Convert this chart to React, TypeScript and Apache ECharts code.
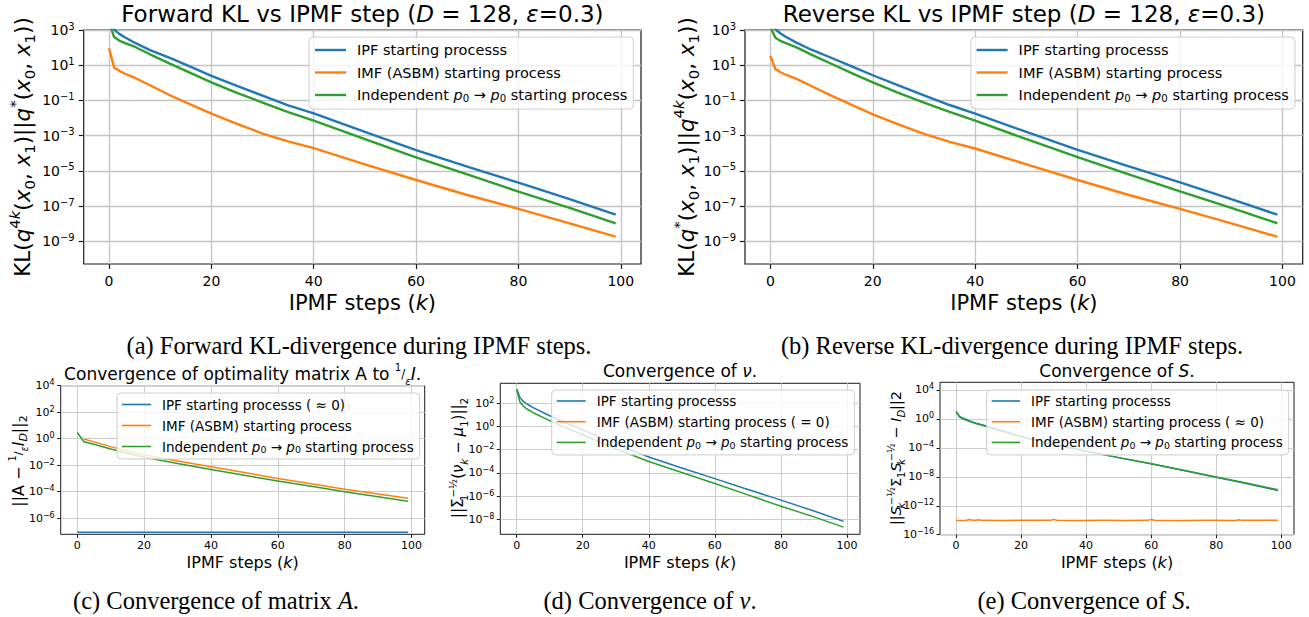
import React, { useEffect, useRef } from 'react';
import * as echarts from 'echarts';

// ---------- data (log10 of the plotted quantities) ----------
const xTickValues = [0, 20, 40, 60, 80, 100];
const klTickExps = [-9, -7, -5, -3, -1, 1, 3];
const matTickExps = [-6, -4, -2, 0, 2, 4];
const nuTickExps = [-8, -6, -4, -2, 0, 2];
const sTickExps = [-16, -12, -8, -4, 0, 4];

// (a) forward KL and (b) reverse KL
const klSteps = [0, 1, 2, 3, 5, 8, 12, 16, 20, 25, 30, 35, 40, 50, 60, 70, 80, 90, 99];
const fwdIPF = [3.9, 3.02, 2.78, 2.6, 2.28, 1.86, 1.4, 0.9, 0.4, -0.17, -0.73, -1.28, -1.74, -2.79, -3.82, -4.76, -5.67, -6.6, -7.49];
const fwdIMF = [1.96, 0.86, 0.68, 0.53, 0.29, -0.14, -0.72, -1.24, -1.75, -2.33, -2.88, -3.33, -3.71, -4.63, -5.52, -6.37, -7.16, -7.98, -8.74];
const fwdInd = [3.43, 2.6, 2.4, 2.27, 2.05, 1.62, 1.08, 0.55, 0.03, -0.57, -1.12, -1.66, -2.15, -3.2, -4.23, -5.2, -6.18, -7.1, -7.98];
const revIPF = [3.9, 3.03, 2.8, 2.62, 2.3, 1.88, 1.41, 0.92, 0.43, -0.15, -0.71, -1.26, -1.75, -2.79, -3.81, -4.75, -5.66, -6.6, -7.49];
const revIMF = [1.54, 0.77, 0.6, 0.46, 0.24, -0.18, -0.74, -1.27, -1.79, -2.36, -2.9, -3.35, -3.73, -4.63, -5.52, -6.37, -7.16, -7.98, -8.74];
const revInd = [3.16, 2.56, 2.38, 2.25, 2.03, 1.6, 1.07, 0.54, 0.03, -0.57, -1.12, -1.65, -2.15, -3.2, -4.22, -5.2, -6.17, -7.1, -7.98];

// (c) matrix A
const matStepsIPF = [0, 25, 50, 75, 99];
const matIPF = [-7.06, -7.06, -7.06, -7.06, -7.06];
const matStepsIMF = [2, 5, 10, 15, 20, 30, 40, 50, 60, 70, 80, 90, 99];
const matIMF = [-0.02, -0.24, -0.6, -0.93, -1.23, -1.68, -2.12, -2.56, -3.0, -3.4, -3.81, -4.17, -4.5];
const matSteps = [0, 2, 5, 10, 15, 20, 30, 40, 50, 60, 70, 80, 90, 99];
const matInd = [0.47, -0.23, -0.42, -0.78, -1.1, -1.41, -1.88, -2.32, -2.77, -3.2, -3.6, -4.01, -4.38, -4.73];

// (d) nu
const nuSteps = [0, 1, 2, 3, 5, 10, 15, 20, 30, 40, 50, 60, 70, 80, 90, 99];
const nuIPF = [3.22, 2.5, 2.15, 1.95, 1.62, 0.92, 0.3, -0.3, -1.5, -2.63, -3.57, -4.49, -5.42, -6.34, -7.27, -8.17];
const nuIMF: number[][] = []; // identically zero: nothing on a log axis
const nuInd = [3.22, 2.1, 1.75, 1.52, 1.18, 0.5, -0.12, -0.72, -1.92, -3.02, -3.96, -4.91, -5.89, -6.86, -7.78, -8.66];

// (e) S
const sSteps = [0, 1, 2, 4, 6, 9, 15, 20, 30, 40, 50, 60, 70, 80, 90, 99];
const sIPF = [0.97, 0.4, 0.12, -0.26, -0.55, -0.95, -1.75, -2.45, -3.5, -4.48, -5.35, -6.2, -7.12, -8.05, -9.0, -9.9];
const sInd = [1.05, 0.3, 0.02, -0.34, -0.63, -1.03, -1.8, -2.48, -3.52, -4.48, -5.35, -6.2, -7.1, -8.02, -8.93, -9.8];
const sStepsIMF = [0, 3, 4, 5, 6, 7, 8, 14, 22, 29, 30, 31, 38, 45, 52, 59, 60, 61, 70, 78, 86, 87, 88, 95, 99];
const sIMF = [-14.05, -14.03, -13.9, -14.0, -14.0, -13.93, -14.02, -14.04, -14.0, -14.02, -13.88, -14.0, -14.05, -14.02, -14.04, -14.02, -13.88, -14.0, -14.03, -14.01, -14.03, -13.93, -14.02, -14.0, -14.02];

// ---------- names ----------
const N_IPF = 'IPF starting processs';
const N_IPF_C = 'IPF starting processs ( ≈ 0)';
const N_IMF = 'IMF (ASBM) starting process';
const N_IMF_D = 'IMF (ASBM) starting process ( = 0)';
const N_IMF_E = 'IMF (ASBM) starting process ( ≈ 0)';
const N_IND = 'Independent p0 → p0 starting process';

// ---------- styling ----------
const BLUE = '#1f77b4';
const ORANGE = '#ff7f0e';
const GREEN = '#2ca02c';
const FONT = 'DejaVu Sans';
const SERIF = 'Liberation Serif';
const FRAME = '#1a1a1a';

const pts = (ks: number[], vs: number[]) => ks.map((k, i) => [k, vs[i]]);
const expLabel = (v: number) => `10{sup|${v < 0 ? '\u2212' + Math.abs(v) : String(v)}}`;

const panels = [
  { left: 83.7, top: 30, width: 557.3, height: 234, yMin: -10.29, yMax: 3, yTicks: klTickExps, big: true },
  { left: 745, top: 30, width: 557.7, height: 234, yMin: -10.29, yMax: 3, yTicks: klTickExps, big: true },
  { left: 60.7, top: 385.7, width: 364, height: 148.6, yMin: -7.22, yMax: 4, yTicks: matTickExps, big: false },
  { left: 500.3, top: 383.3, width: 359.7, height: 151, yMin: -9.28, yMax: 3.71, yTicks: nuTickExps, big: false },
  { left: 940, top: 382.3, width: 354, height: 152.4, yMin: -16, yMax: 5.06, yTicks: sTickExps, big: false },
];

const legends = [
  { left: 309, top: 37, names: [N_IPF, N_IMF, N_IND], fs: 14.5, lh: 16, gap: 6.5, iw: 31, ih: 2.4, pad: [5, 6, 6, 6] },
  { left: 971, top: 37, names: [N_IPF, N_IMF, N_IND], fs: 14.5, lh: 16, gap: 6.5, iw: 31, ih: 2.4, pad: [5, 6, 6, 5.6] },
  { left: 117, top: 393, names: [N_IPF_C, N_IMF, N_IND], fs: 13.5, lh: 15, gap: 6, iw: 29, ih: 1.6, pad: [4, 6, 5, 5] },
  { left: 551.7, top: 390, names: [N_IPF, N_IMF_D, N_IND], fs: 13.5, lh: 15, gap: 5.7, iw: 29, ih: 1.6, pad: [3.5, 6, 5, 5] },
  { left: 986.7, top: 390, names: [N_IPF, N_IMF_E, N_IND], fs: 13.5, lh: 15, gap: 5.7, iw: 28.3, ih: 1.6, pad: [3.5, 6, 5, 5] },
];

function buildOption() {
  const grid = panels.map((p) => ({
    left: p.left, top: p.top, width: p.width, height: p.height,
    show: true, borderColor: FRAME, borderWidth: p.big ? 1.2 : 1, backgroundColor: 'transparent',
    containLabel: false, outerBoundsMode: 'none',
  }));
  const xAxis = panels.map((p, i) => ({
    type: 'value', gridIndex: i, min: -4.95, max: 103.95, position: 'bottom',
    axisLine: { show: false, onZero: false },
    axisTick: { show: true, inside: false, length: p.big ? 5 : 3.5, customValues: xTickValues, lineStyle: { color: FRAME, width: p.big ? 1.2 : 1 } },
    axisLabel: { show: true, customValues: xTickValues, fontFamily: FONT, fontSize: p.big ? 14 : 11, color: '#000', margin: p.big ? 10 : 5.5 },
    splitLine: { show: true, lineStyle: { color: p.big ? '#c4c4c4' : '#cccccc', width: p.big ? 1.3 : 1 } },
  }));
  const yAxis = panels.map((p, i) => ({
    type: 'value', gridIndex: i, min: p.yMin, max: p.yMax, position: 'left',
    axisLine: { show: false, onZero: false },
    axisTick: { show: true, inside: false, length: p.big ? 5 : 3.5, customValues: p.yTicks, lineStyle: { color: FRAME, width: p.big ? 1.2 : 1 } },
    axisLabel: {
      show: true, customValues: p.yTicks, formatter: (v: number) => expLabel(v),
      fontFamily: FONT, fontSize: p.big ? 14 : 11, color: '#000', margin: p.big ? 9 : 6,
      lineHeight: p.big ? 18 : 14,
      rich: { sup: { fontFamily: FONT, fontSize: p.big ? 10 : 8, lineHeight: p.big ? 9 : 7, verticalAlign: 'top', color: '#000' } },
    },
    splitLine: { show: true, lineStyle: { color: p.big ? '#c4c4c4' : '#cccccc', width: p.big ? 1.3 : 1 } },
  }));

  const line = (i: number, name: string, color: string, data: number[][], w: number) => ({
    type: 'line', name, xAxisIndex: i, yAxisIndex: i, data, color,
    symbol: 'none', showSymbol: false, clip: true, silent: true, animation: false,
    lineStyle: { width: w, color, join: 'round', cap: 'butt' }, itemStyle: { color },
    emphasis: { disabled: true },
  });

  const series = [
    line(0, N_IPF, BLUE, pts(klSteps, fwdIPF), 2.4),
    line(0, N_IMF, ORANGE, pts(klSteps, fwdIMF), 2.4),
    line(0, N_IND, GREEN, pts(klSteps, fwdInd), 2.4),
    line(1, N_IPF, BLUE, pts(klSteps, revIPF), 2.4),
    line(1, N_IMF, ORANGE, pts(klSteps, revIMF), 2.4),
    line(1, N_IND, GREEN, pts(klSteps, revInd), 2.4),
    line(2, N_IPF_C, BLUE, pts(matStepsIPF, matIPF), 1.5),
    line(2, N_IMF, ORANGE, pts(matStepsIMF, matIMF), 1.5),
    line(2, N_IND, GREEN, pts(matSteps, matInd), 1.5),
    line(3, N_IPF, BLUE, pts(nuSteps, nuIPF), 1.5),
    line(3, N_IMF_D, ORANGE, nuIMF, 1.5),
    line(3, N_IND, GREEN, pts(nuSteps, nuInd), 1.5),
    line(4, N_IPF, BLUE, pts(sSteps, sIPF), 1.5),
    line(4, N_IMF_E, ORANGE, pts(sStepsIMF, sIMF), 1.5),
    line(4, N_IND, GREEN, pts(sSteps, sInd), 1.5),
  ];

  const legend = legends.map((L) => ({
    show: true, orient: 'vertical', left: L.left, top: L.top, data: L.names,
    icon: 'rect', itemWidth: L.iw, itemHeight: L.ih, itemGap: L.gap, padding: L.pad,
    selectedMode: false,
    backgroundColor: 'rgba(255,255,255,0.8)', borderColor: '#cccccc', borderWidth: 1, borderRadius: 4,
    formatter: (name: string) => name.replace('p0 → p0', '{i|p}{sub|0} → {i|p}{sub|0}'),
    textStyle: {
      fontFamily: FONT, fontSize: L.fs, color: '#000', lineHeight: L.lh, padding: [0, 0, 0, 6],
      rich: {
        i: { fontFamily: FONT, fontSize: L.fs, fontStyle: 'italic', lineHeight: L.lh, color: '#000' },
        sub: { fontFamily: FONT, fontSize: L.fs * 0.7, lineHeight: L.lh * 0.55, verticalAlign: 'bottom', color: '#000' },
      },
    },
  }));

  const mathRich = (fs: number, lh: number) => {
    const s = fs * 0.69;
    const sl = fs * 0.62;
    return {
      i: { fontFamily: FONT, fontSize: fs, fontStyle: 'italic', lineHeight: lh, fill: '#000' },
      sup: { fontFamily: FONT, fontSize: s, lineHeight: sl, verticalAlign: 'top', fill: '#000' },
      supi: { fontFamily: FONT, fontSize: s, fontStyle: 'italic', lineHeight: sl, verticalAlign: 'top', fill: '#000' },
      sub: { fontFamily: FONT, fontSize: s, lineHeight: sl, verticalAlign: 'bottom', fill: '#000' },
      subi: { fontFamily: FONT, fontSize: s, fontStyle: 'italic', lineHeight: sl, verticalAlign: 'bottom', fill: '#000' },
      // stacked: a subscript of (almost) no advance, so the next superscript sits above it
      subz: { fontFamily: FONT, fontSize: s, lineHeight: sl, verticalAlign: 'bottom', width: 1, fill: '#000' },
      subzi: { fontFamily: FONT, fontSize: s, fontStyle: 'italic', lineHeight: sl, verticalAlign: 'bottom', width: 1, fill: '#000' },
      fn: { fontFamily: FONT, fontSize: fs * 0.6, lineHeight: fs * 0.55, verticalAlign: 'top', fill: '#000' },
      fs: { fontFamily: FONT, fontSize: fs * 0.7, lineHeight: lh, fill: '#000' },
      fd: { fontFamily: FONT, fontSize: fs * 0.6, fontStyle: 'italic', lineHeight: fs * 0.55, verticalAlign: 'bottom', fill: '#000' },
    };
  };

  const txt = (x: number, y: number, text: string, fs: number, opts: any = {}) => ({
    type: 'text', x, y, rotation: opts.rot ? Math.PI / 2 : 0, silent: true,
    style: {
      text, fontFamily: opts.family || FONT, fontSize: fs, fill: '#000',
      align: 'center', verticalAlign: 'middle', lineHeight: Math.round(fs * 1.4),
      rich: opts.family === SERIF
        ? { i: { fontFamily: SERIF, fontSize: fs, fontStyle: 'italic', lineHeight: Math.round(fs * 1.4), fill: '#000' } }
        : mathRich(fs, Math.round(fs * 1.4)),
    },
  });

  const elements = [
    // titles
    txt(362.4, 14, 'Forward KL vs IPMF step ({i|D} = 128, {i|ε}=0.3)', 23),
    txt(1023.9, 14, 'Reverse KL vs IPMF step ({i|D} = 128, {i|ε}=0.3)', 23),
    txt(242.7, 374, 'Convergence of optimality matrix A to {fn|1}{fs|/}{fd|ε}{i|I}.', 17),
    txt(680, 371, 'Convergence of {i|ν}.', 17),
    txt(1117, 371, 'Convergence of {i|S}.', 17),
    // x labels
    txt(362.4, 303, 'IPMF steps ({i|k})', 21),
    txt(1023.9, 303, 'IPMF steps ({i|k})', 21),
    txt(242.7, 562.5, 'IPMF steps ({i|k})', 16),
    txt(680, 562.5, 'IPMF steps ({i|k})', 16),
    txt(1117, 562.5, 'IPMF steps ({i|k})', 16),
    // y labels
    txt(22, 147, 'KL({i|q}{sup|4}{supi|k}({i|x}{sub|0}, {i|x}{sub|1})||{i|q}{sup|*}({i|x}{sub|0}, {i|x}{sub|1}))', 21.5, { rot: true }),
    txt(686, 147, 'KL({i|q}{sup|*}({i|x}{sub|0}, {i|x}{sub|1})||{i|q}{sup|4}{supi|k}({i|x}{sub|0}, {i|x}{sub|1}))', 21.5, { rot: true }),
    txt(18, 461, '||A \u2212 {fn|1}{fs|/}{fd|ε}{i|I}{subi|D}||{sub|2}', 16, { rot: true }),
    txt(458, 458, '||Σ{subz|1}{sup|\u2212½}({i|ν}{subi|k} \u2212 {i|μ}{sub|1})||{sub|2}', 15, { rot: true }),
    txt(896, 458, '||{i|S}{subzi|k}{sup|\u2212½}Σ{sub|1}{i|S}{subzi|k}{sup|\u2212½} \u2212 {i|I}{subi|D}||2', 14.5, { rot: true }),
    // captions
    txt(359, 345, '(a) Forward KL-divergence during IPMF steps.', 24.5, { family: SERIF }),
    txt(1012, 345, '(b) Reverse KL-divergence during IPMF steps.', 24.5, { family: SERIF }),
    txt(216, 600, '(c) Convergence of matrix {i|A}.', 24.5, { family: SERIF }),
    txt(650, 600, '(d) Convergence of {i|ν}.', 24.5, { family: SERIF }),
    txt(1084, 600, '(e) Convergence of {i|S}.', 24.5, { family: SERIF }),
  ];

  return {
    animation: false,
    backgroundColor: '#ffffff',
    grid, xAxis, yAxis, series, legend,
    graphic: { elements },
  };
}

export default function App() {
  const ref = useRef<HTMLDivElement>(null);
  useEffect(() => {
    document.body.style.margin = '0';
    if (!ref.current) return;
    const chart = echarts.init(ref.current, null, { renderer: 'svg' });
    chart.setOption(buildOption() as any);
    return () => chart.dispose();
  }, []);
  return <div ref={ref} style={{ width: 1309, height: 617 }} />;
}
